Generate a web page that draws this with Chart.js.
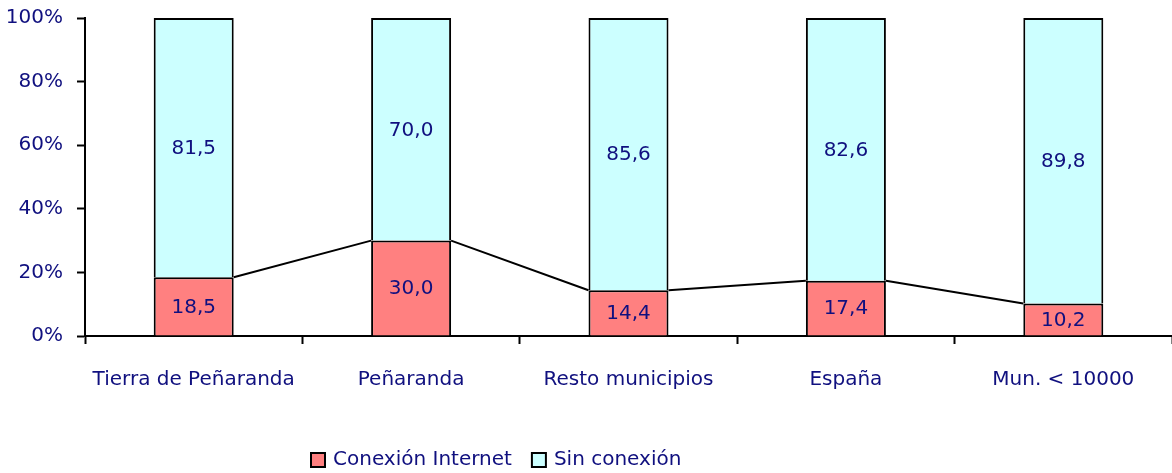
<!DOCTYPE html>
<html><head><meta charset="utf-8">
<script src="https://cdn.jsdelivr.net/npm/chart.js@4/dist/chart.umd.min.js"></script>
<style>html,body{margin:0;padding:0;background:#fff}#wrap{width:1172px;height:473px}</style>
</head><body><div id="wrap"><canvas id="c" width="1172" height="473"></canvas></div>
<script>
const categories = ["Tierra de Peñaranda", "Peñaranda", "Resto municipios", "España", "Mun. < 10000"];
const conexion = [18.5, 30.0, 14.4, 17.4, 10.2];
const sinConexion = [81.5, 70.0, 85.6, 82.6, 89.8];
const seriesNames = ["Conexión Internet", "Sin conexión"];
const yTicks = [0, 20, 40, 60, 80, 100];

const NAVY = '#10107f';
const FONT = 'DejaVu Sans';
const FSIZE = 20;

const valueLabels = {
  id: 'valueLabels',
  afterDatasetsDraw(chart) {
    const ctx = chart.ctx;
    ctx.save();
    ctx.font = FSIZE + 'px "' + FONT + '"';
    ctx.fillStyle = NAVY;
    ctx.textAlign = 'center';
    ctx.textBaseline = 'middle';
    chart.data.datasets.forEach((ds, di) => {
      const meta = chart.getDatasetMeta(di);
      meta.data.forEach((bar, i) => {
        const v = ds.data[i];
        ctx.fillText(v.toFixed(1).replace('.', ','), bar.x, (bar.y + bar.base) / 2 + 1);
      });
    });
    ctx.restore();
  }
};

const seriesLines = {
  id: 'seriesLines',
  afterDatasetsDraw(chart) {
    const ctx = chart.ctx;
    const meta = chart.getDatasetMeta(0);
    ctx.save();
    ctx.strokeStyle = '#000';
    ctx.lineWidth = 2;
    ctx.beginPath();
    for (let i = 0; i < meta.data.length - 1; i++) {
      const a = meta.data[i], b = meta.data[i + 1];
      ctx.moveTo(a.x + a.width / 2, a.y);
      ctx.lineTo(b.x - b.width / 2, b.y);
    }
    ctx.stroke();
    ctx.restore();
  }
};

const customLegend = {
  id: 'customLegend',
  afterDraw(chart) {
    const ctx = chart.ctx;
    ctx.save();
    ctx.font = FSIZE + 'px "' + FONT + '"';
    ctx.textBaseline = 'middle';
    let x = 311;
    const yc = 460;
    chart.data.datasets.forEach((ds) => {
      ctx.fillStyle = ds.backgroundColor;
      ctx.fillRect(x, yc - 7, 14, 14);
      ctx.strokeStyle = '#000';
      ctx.lineWidth = 2;
      ctx.strokeRect(x, yc - 7, 14, 14);
      ctx.fillStyle = NAVY;
      ctx.textAlign = 'left';
      ctx.fillText(ds.label, x + 22, yc);
      x += 22 + ctx.measureText(ds.label).width + 20;
    });
    ctx.restore();
  }
};

new Chart(document.getElementById('c'), {
  type: 'bar',
  data: {
    labels: categories,
    datasets: [
      { label: seriesNames[0], data: conexion, backgroundColor: '#FF8080', borderColor: '#000', borderWidth: 2 },
      { label: seriesNames[1], data: sinConexion, backgroundColor: '#CCFFFF', borderColor: '#000', borderWidth: 2 }
    ]
  },
  options: {
    responsive: false,
    animation: false,
    layout: { padding: { top: 18, right: 0, left: 0, bottom: 0 } },
    datasets: { bar: { categoryPercentage: 1, barPercentage: 0.368 } },
    plugins: { legend: { display: false }, tooltip: { enabled: false } },
    scales: {
      x: {
        stacked: true,
        offset: true,
        grid: { display: true, drawOnChartArea: false, offset: true, tickLength: 8, color: '#000', tickWidth: 2 },
        border: { display: true, color: '#000', width: 2 },
        ticks: { color: NAVY, font: { family: FONT, size: FSIZE }, padding: 24, maxRotation: 0, autoSkip: false },
        afterFit(s) { s.height = 137; s.paddingLeft = 0; s.paddingRight = 0; }
      },
      y: {
        stacked: true,
        min: 0, max: 100,
        afterBuildTicks(s) { s.ticks = yTicks.map(v => ({ value: v })); },
        grid: { display: true, drawOnChartArea: false, tickLength: 8, color: '#000', tickWidth: 2 },
        border: { display: true, color: '#000', width: 2 },
        ticks: { color: NAVY, font: { family: FONT, size: FSIZE }, padding: 14, callback: v => v + '%' },
        afterFit(s) { s.width = 85; s.paddingTop = 0; s.paddingBottom = 0; }
      }
    }
  },
  plugins: [seriesLines, valueLabels, customLegend]
});
</script>
</body></html>
